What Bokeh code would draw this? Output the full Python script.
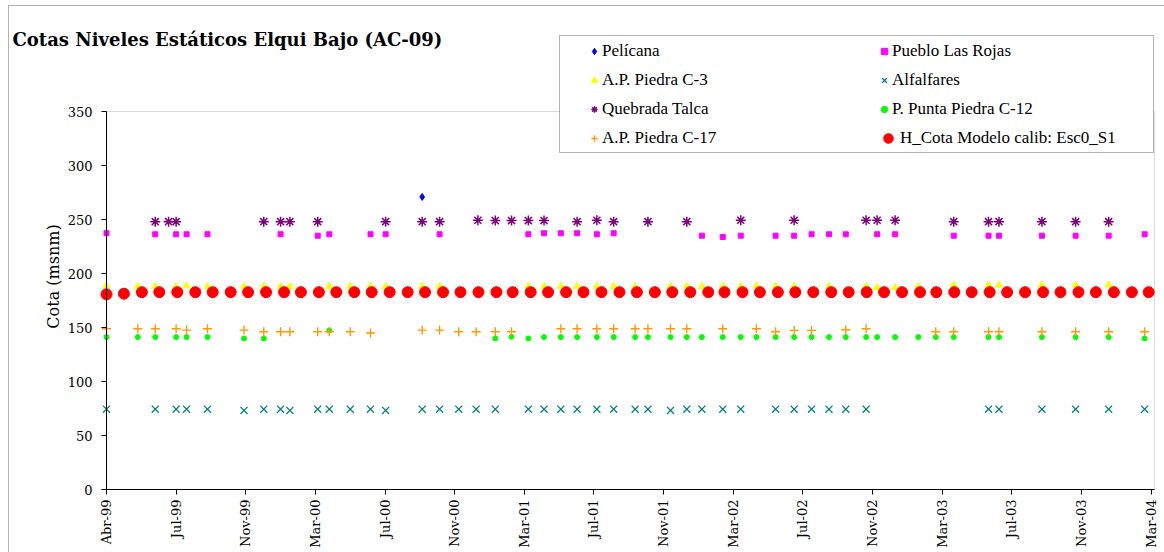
import math
import pandas as pd
from bokeh.plotting import figure
from bokeh.models import (Range1d, FixedTicker, Legend, LegendItem, Label,
                          BoxAnnotation, ColumnDataSource)
from bokeh.embed import file_html
from bokeh.resources import INLINE

FONT = "DejaVu Serif"
LEGEND_FONT = "Liberation Serif"

title_text = "Cotas Niveles Estáticos Elqui Bajo (AC-09)"
y_label = "Cota (msnm)"

x_tick_dates = ["1999-04-01", "1999-07-30", "1999-11-27", "2000-03-26", "2000-07-24",
                "2000-11-21", "2001-03-21", "2001-07-19", "2001-11-16", "2002-03-16",
                "2002-07-14", "2002-11-11", "2003-03-11", "2003-07-09", "2003-11-06",
                "2004-03-05"]
x_tick_labels = ["Abr-99", "Jul-99", "Nov-99", "Mar-00", "Jul-00", "Nov-00", "Mar-01",
                 "Jul-01", "Nov-01", "Mar-02", "Jul-02", "Nov-02", "Mar-03", "Jul-03",
                 "Nov-03", "Mar-04"]
x_start = "1999-04-01"
x_end = "2004-03-11"
y_min, y_max = 0, 350
y_ticks = [0, 50, 100, 150, 200, 250, 300, 350]

# --- Pelícana
pelicana_dates = ["2000-09-26"]
pelicana_vals = [270.9]

# --- Pueblo Las Rojas
pueblo_dates = ["1999-04-01", "1999-06-24", "1999-07-30", "1999-08-17", "1999-09-22",
                "2000-01-26", "2000-03-30", "2000-04-19", "2000-06-29", "2000-07-25",
                "2000-10-26", "2001-03-28", "2001-04-24", "2001-05-23", "2001-06-20",
                "2001-07-24", "2001-08-22", "2002-01-21", "2002-02-26", "2002-03-29",
                "2002-05-28", "2002-06-29", "2002-07-29", "2002-08-28", "2002-09-26",
                "2002-11-19", "2002-12-20", "2003-03-31", "2003-05-30", "2003-06-17",
                "2003-08-30", "2003-10-27", "2003-12-23", "2004-02-23"]
pueblo_vals = [237.3, 236.3, 236.3, 236.3, 236.3,
               236.3, 235.0, 236.3, 236.3, 236.3,
               236.3, 236.3, 237.3, 237.3, 237.3,
               236.3, 237.3, 235.0, 233.8, 235.0,
               235.0, 235.0, 236.3, 236.3, 236.3,
               236.3, 236.3, 235.0, 235.0, 235.0,
               235.0, 235.0, 235.0, 236.3]

# --- A.P. Piedra C-3
c3_dates = ["1999-04-01", "1999-05-25", "1999-06-24", "1999-07-30", "1999-08-17",
            "1999-09-22", "1999-11-24", "1999-12-28", "2000-01-26", "2000-02-11",
            "2000-04-19", "2000-05-25", "2000-06-29", "2000-07-25", "2000-09-26",
            "2000-10-26", "2001-03-28", "2001-04-24", "2001-05-23", "2001-06-20",
            "2001-07-24", "2001-08-22", "2001-09-28", "2001-11-28", "2001-12-26",
            "2002-01-21", "2002-02-26", "2002-03-29", "2002-04-25", "2002-05-28",
            "2002-06-29", "2002-08-28", "2002-10-31", "2002-11-19", "2002-12-20",
            "2003-01-29", "2003-03-31", "2003-05-30", "2003-06-17", "2003-08-30",
            "2003-10-27", "2003-12-23"]
c3_vals = [188.5, 188.0, 188.0, 188.0, 188.5,
           188.0, 188.0, 188.0, 188.0, 188.0,
           188.0, 188.0, 188.0, 188.0, 188.0,
           188.0, 188.0, 188.0, 188.0, 188.0,
           188.0, 188.0, 188.0, 188.0, 188.0,
           188.0, 188.0, 188.0, 188.5, 188.0,
           188.0, 188.0, 188.0, 187.0, 187.0,
           188.0, 189.3, 189.3, 189.3, 189.3,
           189.3, 189.3]

# --- Alfalfares
alf_dates = ["1999-04-01", "1999-06-24", "1999-07-30", "1999-08-17", "1999-09-22",
             "1999-11-24", "1999-12-28", "2000-01-26", "2000-02-11", "2000-03-30",
             "2000-04-19", "2000-05-25", "2000-06-29", "2000-07-25", "2000-09-26",
             "2000-10-26", "2000-11-28", "2000-12-28", "2001-01-30", "2001-03-28",
             "2001-04-24", "2001-05-23", "2001-06-20", "2001-07-24", "2001-08-22",
             "2001-09-28", "2001-10-20", "2001-11-28", "2001-12-26", "2002-01-21",
             "2002-02-26", "2002-03-29", "2002-05-28", "2002-06-29", "2002-07-29",
             "2002-08-28", "2002-09-26", "2002-10-31", "2003-05-30", "2003-06-17",
             "2003-08-30", "2003-10-27", "2003-12-23", "2004-02-23"]
alf_vals = [74.4, 74.4, 74.4, 74.4, 74.4,
            73.2, 74.4, 74.4, 73.2, 74.4,
            74.4, 74.4, 74.4, 73.2, 74.4,
            74.4, 74.4, 74.4, 74.4, 74.4,
            74.4, 74.4, 74.4, 74.4, 74.4,
            74.4, 74.4, 73.2, 74.4, 74.4,
            74.4, 74.4, 74.4, 74.4, 74.4,
            74.4, 74.4, 74.4, 74.4, 74.4,
            74.4, 74.4, 74.4, 74.4]

# --- Quebrada Talca
qt_dates = ["1999-06-24", "1999-07-17", "1999-07-30", "1999-12-28", "2000-01-26",
            "2000-02-11", "2000-03-30", "2000-07-25", "2000-09-26", "2000-10-26",
            "2000-12-31", "2001-01-30", "2001-02-27", "2001-03-28", "2001-04-24",
            "2001-06-20", "2001-07-24", "2001-08-22", "2001-10-20", "2001-12-26",
            "2002-03-29", "2002-06-29", "2002-10-31", "2002-11-19", "2002-12-20",
            "2003-03-31", "2003-05-30", "2003-06-17", "2003-08-30", "2003-10-27",
            "2003-12-23"]
qt_vals = [248.0, 248.0, 248.0, 248.0, 248.0,
           248.0, 248.0, 248.0, 248.0, 248.0,
           249.3, 249.0, 249.0, 249.0, 249.0,
           248.0, 249.3, 248.0, 248.0, 248.0,
           249.3, 249.3, 249.3, 249.3, 249.3,
           248.0, 248.0, 248.0, 248.0, 248.0,
           248.0]

# --- P. Punta Piedra C-12
c12_dates = ["1999-04-01", "1999-05-25", "1999-06-24", "1999-07-30", "1999-08-17",
             "1999-09-22", "1999-11-24", "1999-12-28", "2000-04-19", "2001-01-30",
             "2001-02-27", "2001-03-28", "2001-04-24", "2001-05-23", "2001-06-20",
             "2001-07-24", "2001-08-22", "2001-09-28", "2001-10-20", "2001-11-28",
             "2001-12-26", "2002-01-21", "2002-02-26", "2002-03-29", "2002-04-25",
             "2002-05-28", "2002-06-29", "2002-07-29", "2002-08-28", "2002-09-26",
             "2002-10-31", "2002-11-19", "2002-12-20", "2003-01-29", "2003-02-28",
             "2003-03-31", "2003-05-30", "2003-06-17", "2003-08-30", "2003-10-27",
             "2003-12-23", "2004-02-23"]
c12_vals = [141.1, 141.1, 141.1, 141.1, 141.1,
            141.1, 139.9, 139.9, 147.3, 139.9,
            141.4, 139.9, 141.1, 141.1, 141.1,
            141.1, 141.1, 141.1, 141.1, 141.1,
            141.1, 141.1, 141.1, 141.1, 141.1,
            141.1, 141.1, 141.1, 141.1, 141.1,
            141.1, 141.1, 141.1, 141.1, 141.1,
            141.1, 141.1, 141.1, 141.1, 141.1,
            141.1, 139.9]

# --- A.P. Piedra C-17
c17_dates = ["1999-04-01", "1999-05-25", "1999-06-24", "1999-07-30", "1999-08-17",
             "1999-09-22", "1999-11-24", "1999-12-28", "2000-01-26", "2000-02-11",
             "2000-03-30", "2000-04-19", "2000-05-25", "2000-06-29", "2000-09-26",
             "2000-10-26", "2000-11-28", "2000-12-28", "2001-01-30", "2001-02-27",
             "2001-05-23", "2001-06-20", "2001-07-24", "2001-08-22", "2001-09-28",
             "2001-10-20", "2001-11-28", "2001-12-26", "2002-02-26", "2002-04-25",
             "2002-05-28", "2002-06-29", "2002-07-29", "2002-09-26", "2002-10-31",
             "2003-02-28", "2003-03-31", "2003-05-30", "2003-06-17", "2003-08-30",
             "2003-10-27", "2003-12-23", "2004-02-23"]
c17_vals = [148.8, 148.8, 148.8, 148.8, 147.6,
            148.8, 147.6, 146.1, 146.1, 146.1,
            146.1, 146.1, 146.1, 144.9, 147.6,
            147.6, 146.1, 146.1, 146.1, 146.1,
            148.8, 148.8, 148.8, 148.8, 148.8,
            148.8, 148.8, 148.8, 148.8, 148.8,
            146.1, 147.3, 147.3, 147.9, 148.8,
            146.1, 146.1, 146.1, 146.1, 146.1,
            146.1, 146.1, 146.1]

# --- H_Cota Modelo calib: Esc0_S1 (monthly, first day of month)
model_dates = pd.date_range("1999-04-01", "2004-03-01", freq="MS").strftime("%Y-%m-%d").tolist()
model_vals = [180.7, 181.3, 182.7, 182.7, 182.7, 182.7, 182.7, 182.7, 182.7, 182.7,
              182.7, 182.7, 182.7, 182.7, 182.7, 182.7, 182.7, 182.7, 182.7, 182.7,
              182.7, 182.7, 182.7, 182.7, 182.7, 182.7, 182.7, 182.7, 182.7, 182.7,
              182.7, 182.7, 182.7, 182.7, 182.7, 182.7, 182.7, 182.7, 182.7, 182.7,
              182.7, 182.7, 182.7, 182.7, 182.7, 182.7, 182.7, 182.7, 182.7, 182.7,
              182.7, 182.7, 182.7, 182.7, 182.7, 182.7, 182.7, 182.7, 182.7, 182.7]


def to_ms(dates):
    idx = pd.to_datetime(pd.Series(dates))
    return ((idx - pd.Timestamp("1970-01-01")) // pd.Timedelta(milliseconds=1)).astype("int64").tolist()


tick_ms = to_ms(x_tick_dates)
x0 = to_ms([x_start])[0]
x1 = to_ms([x_end])[0]

# ---- layout (pixels): canvas 1164x552, plot area left 106, right 1154, top 111, bottom 489
W, H = 1164, 552
PL, PR, PT, PB = 106, 1154, 111, 489
ms_per_px = (x1 - x0) / (PR - PL)
v_per_px = (y_max - y_min) / (PB - PT)
xr = Range1d(x0 - PL * ms_per_px, x1 + (W - PR) * ms_per_px)
yr = Range1d(y_min - (H - PB) * v_per_px, y_max + PT * v_per_px)

p = figure(width=W, height=H, output_backend="svg", toolbar_location=None,
           x_range=xr, y_range=yr, min_border=0)
p.title.visible = False
p.xgrid.visible = False
p.ygrid.visible = False
p.outline_line_color = None
p.background_fill_color = "white"
p.border_fill_color = "white"

# axes placed at the plot-area edges
p.xaxis.fixed_location = y_min
p.yaxis.fixed_location = x0
p.xaxis.bounds = (x0, x1)
p.yaxis.bounds = (y_min, y_max)
p.xaxis.ticker = FixedTicker(ticks=tick_ms)
p.xaxis.major_label_overrides = {int(t): lab for t, lab in zip(tick_ms, x_tick_labels)}
p.xaxis.major_label_orientation = math.pi / 2
p.yaxis.ticker = FixedTicker(ticks=y_ticks)
for ax in (p.xaxis[0], p.yaxis[0]):
    ax.axis_line_color = "black"
    ax.axis_line_width = 1
    ax.major_tick_line_color = "black"
    ax.major_tick_in = 0
    ax.major_tick_out = 5
    ax.minor_tick_line_color = None
    ax.major_label_text_font = FONT
    ax.major_label_text_font_size = "13px"
    ax.major_label_text_color = "black"
p.yaxis.major_label_standoff = 9
p.xaxis.major_label_standoff = 5

# y-axis title
p.add_layout(Label(x=53, y=H - 276, x_units="screen", y_units="screen", text=y_label,
                   angle=math.pi / 2, text_align="center", text_baseline="middle",
                   text_font=FONT, text_font_size="16px", text_color="black"))

# plot-area border (grey, top and right visible)
p.add_layout(BoxAnnotation(left=x0, right=x1, bottom=y_min, top=y_max,
                           fill_alpha=0, line_color="#808080", line_width=1,
                           level="underlay"))


def src(d, v):
    return ColumnDataSource(dict(x=to_ms(d), y=v))


r_pel = p.scatter("x", "y", source=src(pelicana_dates, pelicana_vals), marker="diamond",
                  size=7, fill_color="#0000FF", line_color="#0000FF")
r_pue = p.scatter("x", "y", source=src(pueblo_dates, pueblo_vals), marker="square",
                  size=5, fill_color="#FF00FF", line_color="#FF00FF")
r_c3 = p.scatter("x", "y", source=src(c3_dates, c3_vals), marker="triangle",
                 size=7, fill_color="#FFFF00", line_color="#FFFF00")
r_alf = p.scatter("x", "y", source=src(alf_dates, alf_vals), marker="x",
                  size=10, line_color="#008080", line_width=1.3)
r_qt = p.scatter("x", "y", source=src(qt_dates, qt_vals), marker="asterisk",
                 size=10, line_color="#800080", line_width=1.5)
r_c12 = p.scatter("x", "y", source=src(c12_dates, c12_vals), marker="circle",
                  size=5, fill_color="#00FF00", line_color="#00FF00")
r_c17 = p.scatter("x", "y", source=src(c17_dates, c17_vals), marker="cross",
                  size=9, line_color="#FF9900", line_width=1.4)
r_mod = p.scatter("x", "y", source=src(model_dates, model_vals), marker="circle",
                  size=11, fill_color="#FF0000", line_color="#FF0000")

# outer chart border (top and left visible)
p.add_layout(BoxAnnotation(left=8, right=W + 50, top=H - 5, bottom=-50,
                           left_units="screen", right_units="screen",
                           top_units="screen", bottom_units="screen",
                           fill_alpha=0, line_color="black", line_width=1))

# legend box
p.add_layout(BoxAnnotation(left=559, right=1153, top=H - 35, bottom=H - 152,
                           left_units="screen", right_units="screen",
                           top_units="screen", bottom_units="screen",
                           fill_color="white", fill_alpha=1,
                           line_color="black", line_width=1))

col1 = [LegendItem(label="Pelícana", renderers=[r_pel]),
        LegendItem(label="A.P. Piedra C-3", renderers=[r_c3]),
        LegendItem(label="Quebrada Talca", renderers=[r_qt]),
        LegendItem(label="A.P. Piedra C-17", renderers=[r_c17])]
col2 = [LegendItem(label="Pueblo Las Rojas", renderers=[r_pue]),
        LegendItem(label="Alfalfares", renderers=[r_alf]),
        LegendItem(label="P. Punta Piedra C-12", renderers=[r_c12])]
col2b = [LegendItem(label="H_Cota Modelo calib: Esc0_S1", renderers=[r_mod])]

legend_specs = [(col1, 586, H - 149, 16, 22),
                (col2, 876, H - 149 + 29, 16, 22),
                (col2b, 876, H - 150, 24, 24)]
for items, lx, ly, gw, gh in legend_specs:
    leg = Legend(items=items, location=(lx, ly), orientation="vertical",
                 border_line_color=None, background_fill_alpha=0,
                 padding=0, margin=0, spacing=7, label_height=gh,
                 glyph_height=gh, glyph_width=gw, label_standoff=0,
                 label_text_font=LEGEND_FONT, label_text_font_size="17px",
                 label_text_color="black")
    p.add_layout(leg)

p.add_layout(Label(x=12, y=H - 39, x_units="screen", y_units="screen", text=title_text,
                   text_font=FONT, text_font_style="bold", text_font_size="18px",
                   text_color="black", text_baseline="alphabetic"))

open("out.html", "w").write(file_html(p, INLINE))
